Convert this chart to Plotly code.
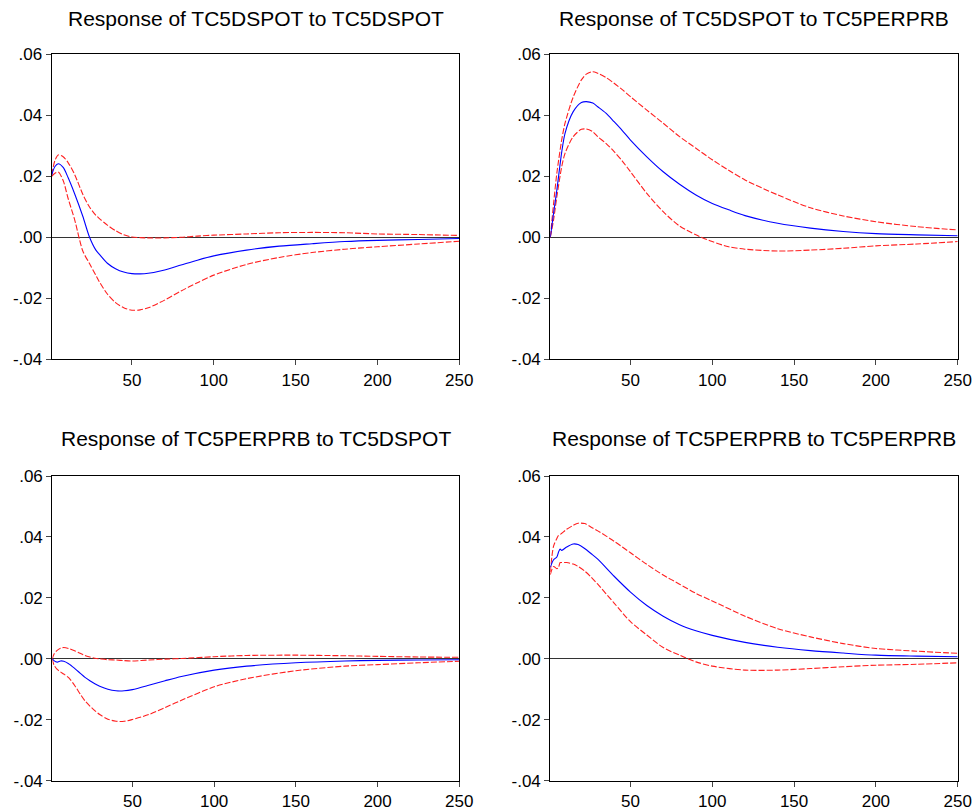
import plotly.graph_objects as go

# ---------------- data ----------------
titles = [
    "Response of TC5DSPOT to TC5DSPOT",
    "Response of TC5DSPOT to TC5PERPRB",
    "Response of TC5PERPRB to TC5DSPOT",
    "Response of TC5PERPRB to TC5PERPRB",
]

# Panel 1: TC5DSPOT -> TC5DSPOT
t_p1 = [1, 3, 5, 8, 11, 15, 20, 24, 28, 30, 35, 40, 45, 50, 55, 60, 70, 80, 90, 100, 120, 140, 160, 180, 200, 225, 250]
irf_p1 = [0.0204, 0.0232, 0.0241, 0.0229, 0.0196, 0.0143, 0.0069, 0.0002, -0.0042, -0.0055, -0.0085, -0.0103, -0.0114,
          -0.0119, -0.0120, -0.0118, -0.0107, -0.0091, -0.0075, -0.0061, -0.0042, -0.0029, -0.0021, -0.0014, -0.0010,
          -0.0007, -0.0004]
up_p1 = [0.0205, 0.0252, 0.0270, 0.0264, 0.0245, 0.0206, 0.0141, 0.0100, 0.0072, 0.0062, 0.0040, 0.0022, 0.0008,
         0.0001, -0.0001, -0.0002, -0.0002, 0.0000, 0.0004, 0.0007, 0.0011, 0.0015, 0.0016, 0.0015, 0.0011, 0.0009,
         0.0006]
lo_p1 = [0.0200, 0.0210, 0.0214, 0.0186, 0.0128, 0.0058, -0.0045, -0.0085, -0.0125, -0.0145, -0.0186, -0.0214,
         -0.0231, -0.0239, -0.0238, -0.0231, -0.0206, -0.0176, -0.0149, -0.0124, -0.0089, -0.0066, -0.0050, -0.0039,
         -0.0031, -0.0022, -0.0013]

# Panel 2: TC5DSPOT -> TC5PERPRB
t_p2 = [1, 3, 5, 8, 10, 15, 20, 23, 27, 30, 35, 40, 45, 50, 60, 70, 80, 90, 100, 110, 120, 140, 160, 180, 200, 225, 250]
irf_p2 = [0.0000, 0.0079, 0.0155, 0.0280, 0.0341, 0.0412, 0.0442, 0.0445, 0.0440, 0.0428, 0.0407, 0.0379, 0.0350,
          0.0319, 0.0264, 0.0215, 0.0174, 0.0139, 0.0111, 0.0090, 0.0071, 0.0046, 0.0030, 0.0019, 0.0012, 0.0008,
          0.0005]
up_p2 = [0.0000, 0.0110, 0.0210, 0.0320, 0.0374, 0.0460, 0.0516, 0.0535, 0.0543, 0.0538, 0.0524, 0.0505, 0.0484,
         0.0461, 0.0417, 0.0374, 0.0330, 0.0292, 0.0254, 0.0220, 0.0188, 0.0139, 0.0097, 0.0070, 0.0051, 0.0035,
         0.0024]
lo_p2 = [0.0000, 0.0057, 0.0133, 0.0232, 0.0275, 0.0330, 0.0354, 0.0355, 0.0346, 0.0330, 0.0308, 0.0281, 0.0250,
         0.0215, 0.0144, 0.0084, 0.0037, 0.0008, -0.0014, -0.0031, -0.0039, -0.0045, -0.0042, -0.0036, -0.0028,
         -0.0022, -0.0014]

# Panel 3: TC5PERPRB -> TC5DSPOT
t_p3 = [1, 2, 4, 6, 8, 11, 15, 18, 21, 24, 27, 30, 35, 40, 45, 50, 60, 70, 80, 100, 120, 150, 180, 200, 225, 250]
irf_p3 = [0.0000, -0.0006, -0.0011, -0.0007, -0.0008, -0.0016, -0.0033, -0.0047, -0.0061, -0.0072, -0.0082, -0.0090,
          -0.0100, -0.0105, -0.0105, -0.0101, -0.0087, -0.0072, -0.0058, -0.0037, -0.0024, -0.0013, -0.0007, -0.0005,
          -0.0004, -0.0003]
up_p3 = [0.0000, 0.0015, 0.0028, 0.0035, 0.0037, 0.0034, 0.0026, 0.0018, 0.0011, 0.0006, 0.0002, 0.0000, -0.0003,
         -0.0004, -0.0006, -0.0007, -0.0004, -0.0001, 0.0001, 0.0007, 0.0011, 0.0012, 0.0010, 0.0008, 0.0006, 0.0005]
lo_p3 = [0.0000, -0.0020, -0.0035, -0.0043, -0.0050, -0.0062, -0.0090, -0.0115, -0.0138, -0.0155, -0.0170, -0.0183,
         -0.0198, -0.0205, -0.0205, -0.0199, -0.0183, -0.0160, -0.0136, -0.0092, -0.0065, -0.0039, -0.0024, -0.0019,
         -0.0013, -0.0008]

# Panel 4: TC5PERPRB -> TC5PERPRB
t_p4 = [1, 3, 5, 6, 7, 8, 11, 15, 18, 22, 26, 30, 40, 50, 60, 70, 80, 90, 100, 120, 140, 160, 180, 200, 225, 250]
irf_p4 = [0.0300, 0.0325, 0.0334, 0.0350, 0.0360, 0.0356, 0.0367, 0.0377, 0.0375, 0.0362, 0.0345, 0.0327, 0.0271,
          0.0219, 0.0175, 0.0140, 0.0112, 0.0092, 0.0077, 0.0054, 0.0038, 0.0027, 0.0019, 0.0012, 0.0009, 0.0007]
up_p4 = [0.0285, 0.0370, 0.0395, 0.0405, 0.0408, 0.0412, 0.0425, 0.0438, 0.0445, 0.0444, 0.0432, 0.0420, 0.0386,
         0.0348, 0.0310, 0.0275, 0.0245, 0.0215, 0.0190, 0.0140, 0.0099, 0.0072, 0.0050, 0.0034, 0.0025, 0.0018]
lo_p4 = [0.0276, 0.0303, 0.0296, 0.0300, 0.0316, 0.0316, 0.0316, 0.0311, 0.0303, 0.0288, 0.0268, 0.0245, 0.0183,
         0.0122, 0.0078, 0.0037, 0.0012, -0.0010, -0.0024, -0.0037, -0.0037, -0.0032, -0.0026, -0.0021, -0.0018,
         -0.0013]

x_ticks = [50, 100, 150, 200, 250]
y_ticks = [-0.04, -0.02, 0.00, 0.02, 0.04, 0.06]
y_tick_labels = ["-.04", "-.02", ".00", ".02", ".04", ".06"]

panels = [
    (t_p1, irf_p1, up_p1, lo_p1),
    (t_p2, irf_p2, up_p2, lo_p2),
    (t_p3, irf_p3, up_p3, lo_p3),
    (t_p4, irf_p4, up_p4, lo_p4),
]

# ---------------- layout geometry ----------------
W, H = 974, 810
px_dom_x = [(51.7, 459.3), (550.3, 957.7), (52.3, 459.3), (550.3, 957.7)]
px_dom_y = [(54.3, 359.3), (54.3, 359.3), (476.0, 780.7), (476.0, 780.7)]
title_y_px = [18, 18, 438, 438]

fig = go.Figure()
FONT = "Liberation Sans, Arial, sans-serif"

for i, (t, irf, up, lo) in enumerate(panels):
    k = "" if i == 0 else str(i + 1)
    xa, ya = "x" + k, "y" + k
    for vals, color, dash in ((up, "#FF2020", "6px,2px"), (lo, "#FF2020", "6px,2px"), (irf, "#0000FF", "solid")):
        fig.add_trace(go.Scatter(
            x=t, y=vals, mode="lines", xaxis=xa, yaxis=ya, showlegend=False, hoverinfo="skip",
            line=dict(color=color, width=1.1, dash=dash, shape="spline", smoothing=0.8),
        ))
    x0, x1 = px_dom_x[i]
    y0, y1 = px_dom_y[i]
    axis_common = dict(
        showline=True, linecolor="black", linewidth=1.2, mirror=True,
        ticks="outside", ticklen=5, tickwidth=1, tickcolor="#444444",
        showgrid=False, automargin=False,
        tickfont=dict(family=FONT, size=17, color="black"),
    )
    fig.layout["xaxis" + k] = dict(
        domain=[x0 / W, x1 / W], anchor=ya, range=[1, 250],
        tickmode="array", tickvals=x_ticks, ticktext=[str(v) for v in x_ticks],
        zeroline=False, ticklabelstandoff=0, **axis_common,
    )
    fig.layout["yaxis" + k] = dict(
        domain=[1 - y1 / H, 1 - y0 / H], anchor=xa, range=[-0.04, 0.06],
        tickmode="array", tickvals=y_ticks, ticktext=y_tick_labels,
        zeroline=True, zerolinecolor="#333333", zerolinewidth=1, **axis_common,
    )
    fig.add_annotation(
        text=titles[i], xref="paper", yref="paper",
        x=(x0 + x1) / 2 / W, y=1 - title_y_px[i] / H,
        xanchor="center", yanchor="middle", showarrow=False,
        font=dict(family=FONT, size=21, color="black"),
    )

fig.update_layout(
    width=W, height=H, margin=dict(l=0, r=0, t=0, b=0, autoexpand=False),
    paper_bgcolor="white", plot_bgcolor="white",
)

fig.write_html(
    "out.html",
    config={"displayModeBar": False},
    post_script="document.body.style.margin='0';document.body.style.overflow='hidden';",
)
